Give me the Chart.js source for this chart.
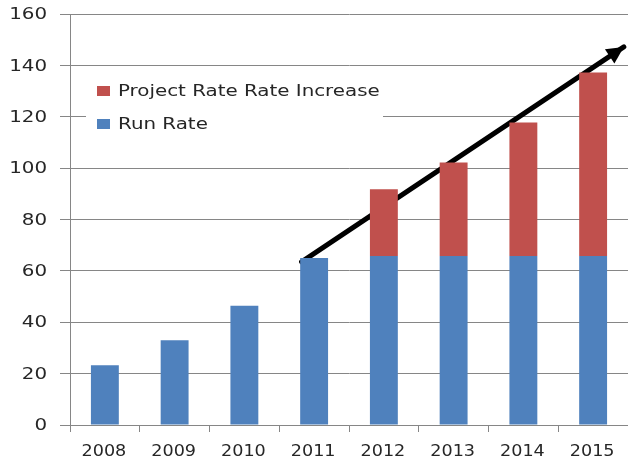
<!DOCTYPE html>
<html><head><meta charset="utf-8">
<script src="https://cdn.jsdelivr.net/npm/chart.js@4"></script>
<style>html,body{margin:0;padding:0;background:#fff}#wrap{width:628px;height:463px;position:relative}</style>
</head><body><div id="wrap"><canvas id="c" width="628" height="463"></canvas></div>
<script>
const categories = ['2008','2009','2010','2011','2012','2013','2014','2015'];
const runRate = [23.3, 33, 46.4, 65, 65.8, 65.8, 65.8, 65.8];
const projectIncrease = [0, 0, 0, 0, 26, 36.4, 52, 71.4];
const arrowX = [2.82, 7.44];
const arrowY = [63.5, 147.2];
const yMin = 0, yMax = 160, yStep = 20;
const legendLabels = ['Project Rate Rate Increase', 'Run Rate'];

const BLUE = '#4F81BD', RED = '#C0504D', GRID = '#868686', TXT = '#262626';
const FONT = '"DejaVu Sans"';

function stretchedText(ctx, text, x, y, align, sx, size) {
  ctx.save();
  ctx.translate(x, y);
  ctx.scale(sx, 1);
  ctx.font = size + 'px ' + FONT;
  ctx.fillStyle = TXT;
  ctx.textAlign = align;
  ctx.textBaseline = 'middle';
  ctx.fillText(text, 0, 0);
  ctx.restore();
}

const axisLabels = {
  id: 'axisLabels',
  afterDraw(chart) {
    const ctx = chart.ctx;
    const ys = chart.scales.y;
    ys.ticks.forEach((t, i) => {
      stretchedText(ctx, String(t.value), 47, ys.getPixelForTick(i) + 1, 'right', 1.24, 16);
    });
    const xs = chart.scales.x;
    xs.ticks.forEach((t, i) => {
      stretchedText(ctx, categories[i], xs.getPixelForTick(i) - 1, 452, 'center', 1.1, 16);
    });
  }
};

const arrowHead = {
  id: 'arrowHead',
  afterDatasetsDraw(chart) {
    const meta = chart.getDatasetMeta(2);
    const p0 = meta.data[0], p1 = meta.data[meta.data.length - 1];
    const ang = Math.atan2(p1.y - p0.y, p1.x - p0.x);
    const L = 17, W = 8.5;
    const ctx = chart.ctx;
    ctx.save();
    ctx.fillStyle = '#000';
    ctx.beginPath();
    ctx.moveTo(p1.x, p1.y);
    ctx.lineTo(p1.x - L * Math.cos(ang) + W * Math.sin(ang), p1.y - L * Math.sin(ang) - W * Math.cos(ang));
    ctx.lineTo(p1.x - L * Math.cos(ang) - W * Math.sin(ang), p1.y - L * Math.sin(ang) + W * Math.cos(ang));
    ctx.closePath();
    ctx.fill();
    ctx.restore();
  }
};

const innerLegend = {
  id: 'innerLegend',
  afterDraw(chart) {
    const ctx = chart.ctx;
    ctx.save();
    ctx.fillStyle = '#fff';
    ctx.fillRect(86, 74, 297, 66);
    const cols = [RED, BLUE];
    const ys = [91, 124];
    legendLabels.forEach((t, i) => {
      ctx.fillStyle = cols[i];
      ctx.fillRect(97, ys[i] - 5, 13, 10);
      stretchedText(ctx, t, 118, ys[i] + 1, 'left', 1.24, 16);
    });
    ctx.restore();
  }
};

new Chart(document.getElementById('c'), {
  type: 'bar',
  data: {
    labels: categories,
    datasets: [
      { type: 'bar', label: 'Run Rate', data: runRate, backgroundColor: BLUE, grouped: false, categoryPercentage: 0.8, barPercentage: 0.5 },
      { type: 'bar', label: 'Project Rate Rate Increase', data: projectIncrease, backgroundColor: RED, grouped: false, categoryPercentage: 0.8, barPercentage: 0.5 },
      { type: 'line', label: 'trend', xAxisID: 'x2', data: arrowX.map((x, i) => ({ x, y: arrowY[i] })),
        borderColor: '#000', borderWidth: 5, pointRadius: 0, borderCapStyle: 'round', fill: false, clip: false }
    ]
  },
  options: {
    responsive: false,
    animation: false,
    layout: { padding: { top: 14, right: 0, bottom: 0, left: 0 } },
    plugins: { legend: { display: false }, tooltip: { enabled: false } },
    scales: {
      x: {
        stacked: true,
        grid: { display: true, drawOnChartArea: false, drawTicks: true, tickLength: 7, color: GRID, offset: true },
        border: { display: true, color: GRID, width: 1 },
        ticks: { display: false },
        afterFit(s) { s.height = 38; }
      },
      x2: { type: 'linear', display: false, offset: false, min: -0.5, max: 7.5, grid: { offset: false } },
      y: {
        stacked: true,
        min: yMin, max: yMax,
        ticks: { stepSize: yStep, display: false },
        grid: { color: GRID, lineWidth: 1, tickLength: 10 },
        border: { display: true, color: GRID, width: 1 },
        afterFit(s) { s.width = 70; }
      }
    }
  },
  plugins: [arrowHead, innerLegend, axisLabels]
});
</script></body></html>
